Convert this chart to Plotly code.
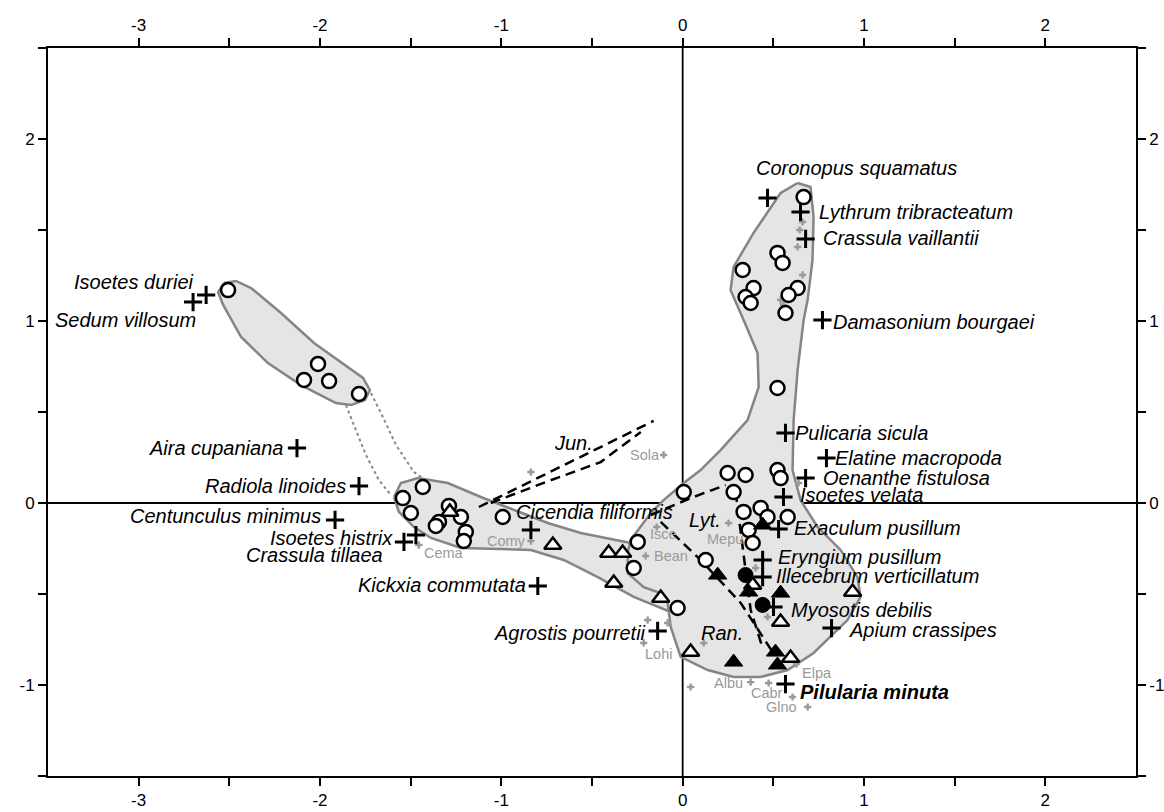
import plotly.graph_objects as go

# ---------------- data (ordination scores) ----------------
circle_x = [-2.507, -2.011, -2.088, -1.950, -1.785,
            -1.433, -1.543, -1.499, -1.289, -1.223, -1.344, -1.361, -1.196, -1.207, -0.992,
            -0.248, -0.270, -0.028,
            0.667, 0.523, 0.551, 0.331, 0.391, 0.347, 0.375, 0.634, 0.584, 0.567, 0.523,
            0.248, 0.347, 0.523, 0.540, 0.006, 0.281, 0.336, 0.430, 0.468, 0.579, 0.364, 0.386, 0.127]
circle_y = [1.170, 0.764, 0.676, 0.670, 0.599,
            0.088, 0.027, -0.055, -0.016, -0.077, -0.104, -0.126, -0.159, -0.209, -0.077,
            -0.214, -0.357, -0.577,
            1.681, 1.374, 1.319, 1.280, 1.181, 1.132, 1.099, 1.181, 1.143, 1.044, 0.632,
            0.165, 0.154, 0.181, 0.137, 0.060, 0.060, -0.049, -0.027, -0.077, -0.077, -0.148, -0.220, -0.313]

open_tri_x = [-1.284, -0.716, -0.408, -0.331, -0.380, -0.121, 0.386, 0.937, 0.540, 0.044, 0.595]
open_tri_y = [-0.049, -0.231, -0.275, -0.275, -0.440, -0.522, -0.451, -0.489, -0.654, -0.819, -0.852]

filled_tri_x = [0.441, 0.193, 0.540, 0.364, 0.281, 0.512, 0.523]
filled_tri_y = [-0.121, -0.396, -0.495, -0.489, -0.874, -0.819, -0.890]

filled_circ_x = [0.347, 0.441]
filled_circ_y = [-0.396, -0.560]

species = ["Coronopus squamatus", "Lythrum tribracteatum", "Crassula vaillantii",
           "Damasonium bourgaei", "Pulicaria sicula", "Elatine macropoda", "Oenanthe fistulosa",
           "Isoetes velata", "Exaculum pusillum", "Eryngium pusillum", "Illecebrum verticillatum",
           "Myosotis debilis", "Apium crassipes", "Pilularia minuta", "Agrostis pourretii",
           "Kickxia commutata", "Cicendia filiformis", "Isoetes histrix", "Crassula tillaea",
           "Centunculus minimus", "Radiola linoides", "Aira cupaniana", "Isoetes duriei",
           "Sedum villosum"]
species_x = [0.468, 0.650, 0.678, 0.771, 0.567, 0.793, 0.678, 0.556, 0.529, 0.441, 0.441,
             0.501, 0.821, 0.567, -0.138, -0.799, -0.837, -1.537, -1.471, -1.917, -1.785,
             -2.127, -2.628, -2.700]
species_y = [1.676, 1.599, 1.451, 1.005, 0.385, 0.247, 0.137, 0.033, -0.143, -0.313, -0.407,
             -0.571, -0.687, -0.995, -0.703, -0.456, -0.148, -0.214, -0.176, -0.093, 0.093,
             0.302, 1.143, 1.104]

grey_labels = ["Sola", "Cema", "Comy", "Isce", "Bean", "Mepu", "Lohi", "Albu", "Cabr", "Glno", "Elpa"]
grey_x = [-0.105, -1.455, -0.837, -0.143, -0.204, 0.253, -0.215, 0.375, 0.474, 0.606, 0.628]
grey_y = [0.264, -0.231, -0.209, -0.132, -0.291, -0.110, -0.769, -0.984, -0.989, -1.066, -0.885]

grey_other_x = [-0.837, 0.689, 0.044, -0.193, -0.083, 0.116, 0.402, 0.468, 0.639,
                0.661, 0.645, 0.634, 0.661, 0.540, 0.556]
grey_other_y = [0.170, -1.121, -1.011, -0.643, -0.659, -0.769, -0.357, -0.626, 0.110,
                1.544, 1.500, 1.407, 1.253, 1.115, 1.088]

# group outlines (hulls)
hull_left_x = [-2.529, -2.463, -2.380, -2.215, -2.033, -1.846, -1.763, -1.725, -1.752, -1.829,
               -1.912, -2.105, -2.287, -2.435, -2.534, -2.562]
hull_left_y = [1.209, 1.220, 1.181, 1.044, 0.879, 0.747, 0.687, 0.621, 0.566, 0.538,
               0.549, 0.648, 0.769, 0.912, 1.088, 1.159]

hull_band_x = [-1.592, -1.554, -1.460, -1.295, -1.113, -0.931, -0.744, -0.562, -0.380, -0.231,
               -0.066, -0.011, -0.066, -0.138, -0.270, -0.468, -0.656, -0.837, -1.223, -1.388,
               -1.482, -1.565]
hull_band_y = [0.033, 0.110, 0.137, 0.110, 0.033, -0.038, -0.110, -0.165, -0.203, -0.231,
               -0.313, -0.533, -0.599, -0.571, -0.516, -0.407, -0.313, -0.258, -0.247, -0.192,
               -0.132, -0.049]

hull_big_x = [0.634, 0.705, 0.722, 0.716, 0.689, 0.667, 0.634, 0.612, 0.606, 0.650, 0.744, 0.871,
              0.964, 0.981, 0.909, 0.722, 0.579, 0.430, 0.281, 0.138, -0.011, -0.066, -0.083,
              -0.138, -0.215, -0.303, -0.303, -0.287, -0.176, -0.105, 0.006, 0.099, 0.209, 0.358,
              0.419, 0.413, 0.336, 0.264, 0.281, 0.391, 0.540]
hull_big_y = [1.758, 1.736, 1.571, 1.335, 1.115, 1.005, 0.731, 0.456, 0.181, 0.016, -0.132, -0.258,
              -0.407, -0.516, -0.643, -0.824, -0.918, -0.956, -0.956, -0.918, -0.846, -0.681, -0.549,
              -0.489, -0.462, -0.385, -0.275, -0.203, -0.055, 0.016, 0.110, 0.181, 0.291, 0.456,
              0.637, 0.824, 1.005, 1.170, 1.297, 1.484, 1.703]

link_a_x = [-1.857, -1.802, -1.747, -1.675, -1.609]
link_a_y = [0.538, 0.401, 0.264, 0.126, 0.044]
link_b_x = [-1.719, -1.664, -1.581, -1.482, -1.416]
link_b_y = [0.604, 0.495, 0.319, 0.170, 0.126]

# trajectories (dashed)
traj = [
    ([-1.124, -0.160], [-0.022, 0.451]),
    ([-1.058, -0.755, -0.452, -0.231], [0.0, 0.115, 0.225, 0.390]),
    ([-0.176, 0.044, 0.237], [-0.066, 0.027, 0.099]),
    ([-0.121, 0.099, 0.320, 0.496], [-0.104, -0.313, -0.549, -0.819]),
    ([0.292, 0.320, 0.347, 0.375, 0.441], [0.060, -0.148, -0.368, -0.588, -0.797]),
]
group_labels = ["Jun.", "Lyt.", "Ran."]
group_x = [-0.600, 0.121, 0.215]
group_y = [0.330, -0.093, -0.714]

tick_vals = [-3, -2.5, -2, -1.5, -1, -0.5, 0, 0.5, 1, 1.5, 2]
ytick_vals = [-1.5, -1, -0.5, 0, 0.5, 1, 1.5, 2, 2.5]

# ---------------- label placement (style) ----------------
sp_pos = {
    "Coronopus squamatus": ("center", 89, 30),
    "Lythrum tribracteatum": ("left", 16, 0),
    "Crassula vaillantii": ("left", 15, 1),
    "Damasonium bourgaei": ("left", 9, -2),
    "Pulicaria sicula": ("left", 8, 0),
    "Elatine macropoda": ("left", 7, 0),
    "Oenanthe fistulosa": ("left", 15, 0),
    "Isoetes velata": ("left", 15, 2),
    "Exaculum pusillum": ("left", 13, 1),
    "Eryngium pusillum": ("left", 13, 3),
    "Illecebrum verticillatum": ("left", 11, 1),
    "Myosotis debilis": ("left", 15, -3),
    "Apium crassipes": ("left", 15, -2),
    "Pilularia minuta": ("left", 13, -8),
    "Agrostis pourretii": ("right", -10, -2),
    "Kickxia commutata": ("right", -10, 1),
    "Cicendia filiformis": ("left", -17, 18),
    "Isoetes histrix": ("right", -9, 4),
    "Crassula tillaea": ("right", -31, -20),
    "Centunculus minimus": ("right", -12, 4),
    "Radiola linoides": ("right", -11, 0),
    "Aira cupaniana": ("right", -12, 0),
    "Isoetes duriei": ("right", -10, 13),
    "Sedum villosum": ("right", 5, -18),
}
grey_pos = {
    "Sola": ("right", -2, 0), "Cema": ("left", 3, -8), "Comy": ("right", -3, 0),
    "Isce": ("left", -9, -7), "Bean": ("left", 6, 0), "Mepu": ("center", -4, -16),
    "Lohi": ("left", -1, -11), "Albu": ("right", -6, -1), "Cabr": ("center", -2, -10),
    "Glno": ("center", -11, -10), "Elpa": ("left", 3, -9),
}

FONT = "Arial, Liberation Sans, sans-serif"
TICKFONT = "Liberation Sans Narrow, Arial Narrow, Arial, sans-serif"
GREY = "#9a9a9a"
fig = go.Figure()


def hull(xs, ys):
    fig.add_trace(go.Scatter(x=xs + xs[:1], y=ys + ys[:1], mode="lines", fill="toself",
                             fillcolor="#e5e5e5", line=dict(color="#858585", width=2.5),
                             hoverinfo="skip", showlegend=False))


hull(hull_band_x, hull_band_y)
hull(hull_big_x, hull_big_y)
hull(hull_left_x, hull_left_y)

for lx, ly in [(link_a_x, link_a_y), (link_b_x, link_b_y)]:
    fig.add_trace(go.Scatter(x=lx, y=ly, mode="lines", line=dict(color="#8a8a8a", width=2, dash="dot"),
                             showlegend=False, hoverinfo="skip"))

for tx, ty in traj:
    fig.add_trace(go.Scatter(x=tx, y=ty, mode="lines", line=dict(color="black", width=2.5, dash="10px,6px"),
                             showlegend=False, hoverinfo="skip"))

fig.add_trace(go.Scatter(x=grey_other_x, y=grey_other_y, mode="markers",
                         marker=dict(symbol="cross", size=6, color=GREY, line=dict(width=0)),
                         showlegend=False))
fig.add_trace(go.Scatter(x=grey_x, y=grey_y, mode="markers",
                         marker=dict(symbol="cross", size=6, color=GREY, line=dict(width=0)),
                         showlegend=False))

fig.add_trace(go.Scatter(x=circle_x, y=circle_y, mode="markers",
                         marker=dict(symbol="circle", size=14, color="white",
                                     line=dict(color="black", width=2.5)), showlegend=False))
fig.add_trace(go.Scatter(x=open_tri_x, y=open_tri_y, mode="markers",
                         marker=dict(symbol="triangle-up", size=15, color="white",
                                     line=dict(color="black", width=2.5)), showlegend=False))
fig.add_trace(go.Scatter(x=filled_tri_x, y=filled_tri_y, mode="markers",
                         marker=dict(symbol="triangle-up", size=16, color="black",
                                     line=dict(color="black", width=1)), showlegend=False))
fig.add_trace(go.Scatter(x=filled_circ_x, y=filled_circ_y, mode="markers",
                         marker=dict(symbol="circle", size=15, color="black",
                                     line=dict(color="black", width=1)), showlegend=False))
fig.add_trace(go.Scatter(x=species_x, y=species_y, mode="markers",
                         marker=dict(symbol="cross-thin", size=13,
                                     line=dict(color="black", width=3)), showlegend=False))

# invisible trace for top/right axes
fig.add_trace(go.Scatter(x=[0], y=[0], xaxis="x2", yaxis="y2", mode="markers",
                         marker=dict(opacity=0), showlegend=False, hoverinfo="skip"))

for name, sx, sy in zip(species, species_x, species_y):
    anc, dx, dy = sp_pos[name]
    txt = f"<b><i>{name}</i></b>" if name == "Pilularia minuta" else f"<i>{name}</i>"
    fig.add_annotation(x=sx, y=sy, text=txt, showarrow=False, xanchor=anc, yanchor="middle",
                       xshift=dx, yshift=dy, font=dict(family=FONT, size=20, color="black"))

for name, gx, gy in zip(grey_labels, grey_x, grey_y):
    anc, dx, dy = grey_pos[name]
    fig.add_annotation(x=gx, y=gy, text=name, showarrow=False, xanchor=anc, yanchor="middle",
                       xshift=dx, yshift=dy, font=dict(family=FONT, size=14.5, color=GREY))

for name, gx, gy in zip(group_labels, group_x, group_y):
    fig.add_annotation(x=gx, y=gy, text=f"<i>{name}</i>", showarrow=False,
                       font=dict(family=FONT, size=20, color="black"))

# zero lines under the hulls
fig.add_shape(type="line", x0=0, x1=0, y0=-1.5, y1=2.5, xref="x", yref="y", layer="below",
              line=dict(color="black", width=1.8))
fig.add_shape(type="line", x0=-3.5, x1=2.5, y0=0, y1=0, xref="x", yref="y", layer="below",
              line=dict(color="black", width=1.8))


def ticktext(vals):
    return [str(int(v)) if float(v).is_integer() else "" for v in vals]


axis_common = dict(showgrid=False, zeroline=False, showline=True, linecolor="black", linewidth=1.8,
                   ticks="outside", ticklen=8, tickwidth=1.5, tickcolor="black", automargin=False,
                   tickfont=dict(family=TICKFONT, size=17, color="black"))

fig.update_layout(
    width=1164, height=812, plot_bgcolor="white", paper_bgcolor="white",
    margin=dict(l=48, r=28, t=48, b=36, autoexpand=False),
    xaxis=dict(range=[-3.5, 2.5], tickvals=tick_vals, ticktext=ticktext(tick_vals), side="bottom",
               **axis_common),
    yaxis=dict(range=[-1.5, 2.5], tickvals=ytick_vals, ticktext=ticktext(ytick_vals), side="left",
               **axis_common),
    xaxis2=dict(range=[-3.5, 2.5], tickvals=tick_vals, ticktext=ticktext(tick_vals), side="top",
                overlaying="x", **axis_common),
    yaxis2=dict(range=[-1.5, 2.5], tickvals=ytick_vals, ticktext=ticktext(ytick_vals), side="right",
                overlaying="y", ticklabelstandoff=0, **axis_common),
    showlegend=False,
)

fig.write_html("out.html", config={"displayModeBar": False},
               post_script="document.body.style.margin='0';document.body.style.overflow='hidden';")
